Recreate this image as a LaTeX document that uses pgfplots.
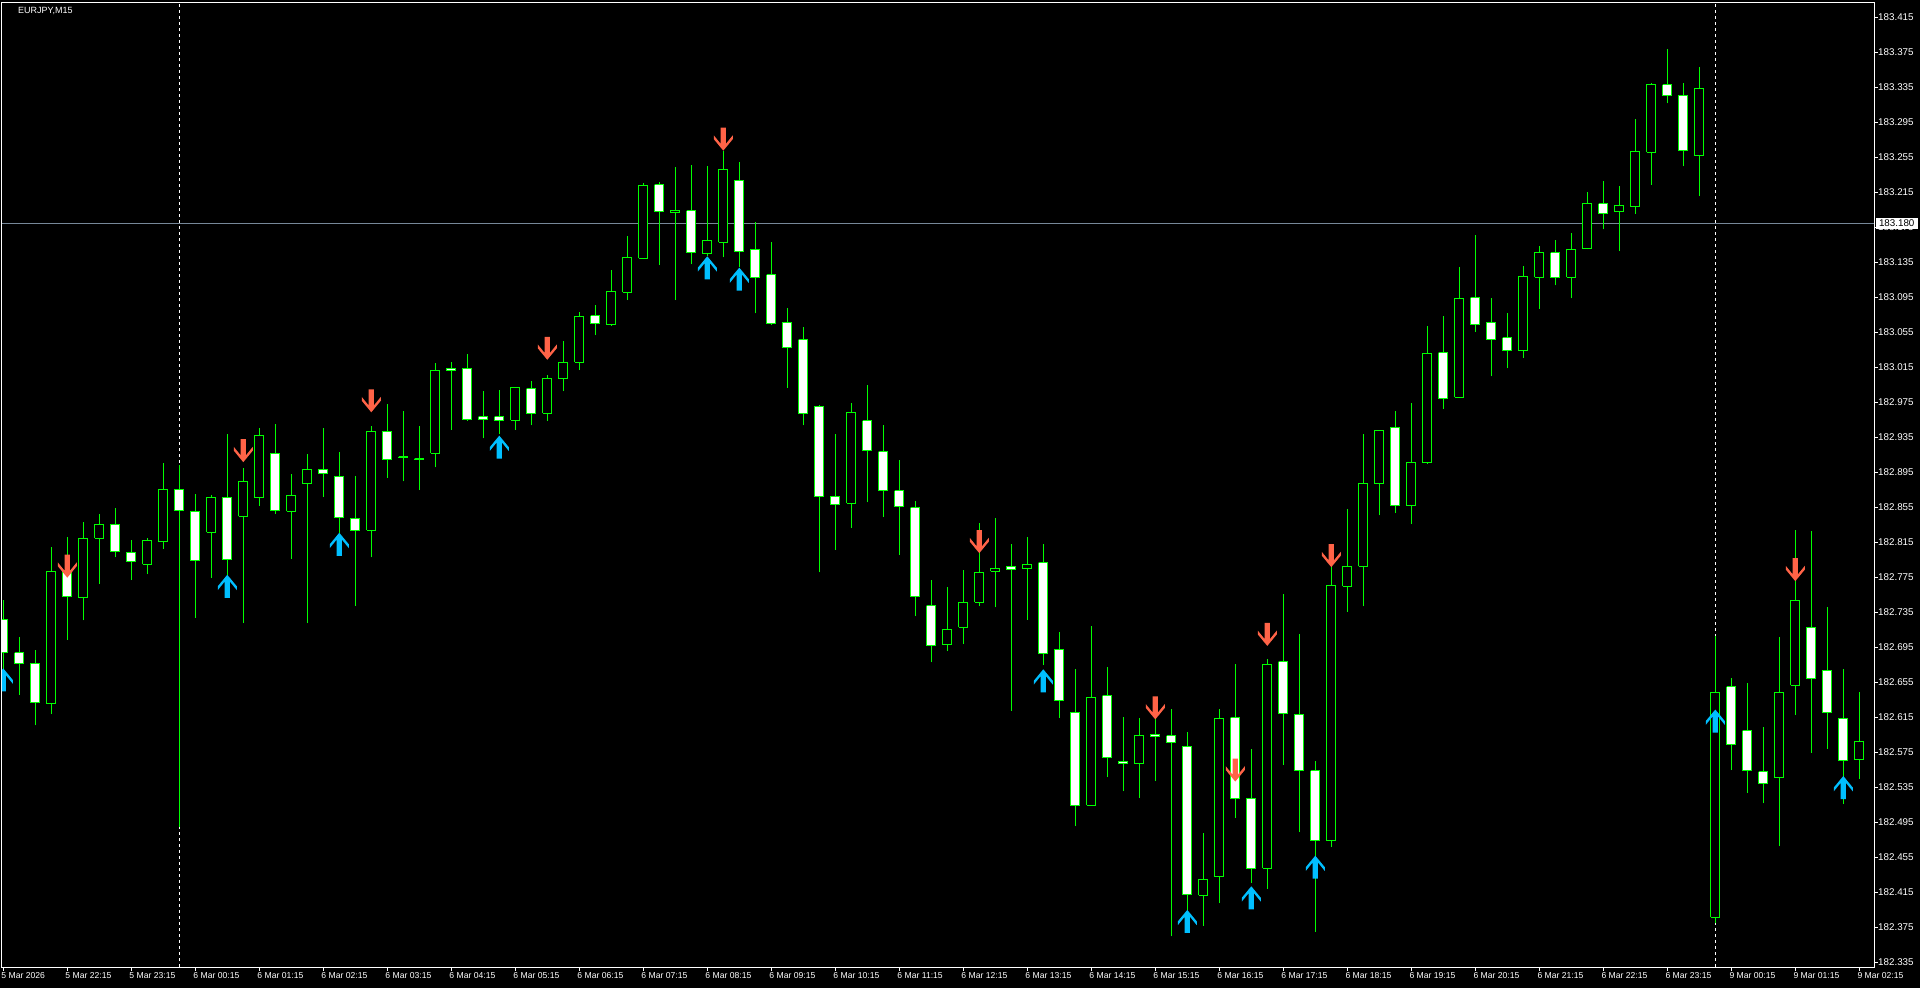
\documentclass[border=0pt]{standalone}
\usepackage{fontspec}
\setmainfont{Liberation Sans}
\usepackage{pgfplots}
\usepackage{pgfplotstable}
\pgfplotsset{compat=1.18}
\definecolor{mtgreen}{RGB}{0,255,0}
\definecolor{arrowred}{RGB}{255,99,71}
\definecolor{arrowblue}{RGB}{0,191,255}
\definecolor{bidline}{RGB}{119,136,153}

\pgfdeclareplotmark{mtup}{%
  \pgfpathmoveto{\pgfqpoint{0pt}{11.5pt}}%
  \pgfpathlineto{\pgfqpoint{9.5pt}{0pt}}%
  \pgfpathlineto{\pgfqpoint{9.5pt}{-3.8pt}}%
  \pgfpathlineto{\pgfqpoint{2.6pt}{4.7pt}}%
  \pgfpathlineto{\pgfqpoint{2.6pt}{-11.5pt}}%
  \pgfpathlineto{\pgfqpoint{-2.6pt}{-11.5pt}}%
  \pgfpathlineto{\pgfqpoint{-2.6pt}{4.7pt}}%
  \pgfpathlineto{\pgfqpoint{-9.5pt}{-3.8pt}}%
  \pgfpathlineto{\pgfqpoint{-9.5pt}{0pt}}%
  \pgfpathclose\pgfusepathqfill}
\pgfdeclareplotmark{mtdown}{%
  \pgfpathmoveto{\pgfqpoint{0pt}{-11.5pt}}%
  \pgfpathlineto{\pgfqpoint{9.5pt}{0pt}}%
  \pgfpathlineto{\pgfqpoint{9.5pt}{3.8pt}}%
  \pgfpathlineto{\pgfqpoint{2.6pt}{-4.7pt}}%
  \pgfpathlineto{\pgfqpoint{2.6pt}{11.5pt}}%
  \pgfpathlineto{\pgfqpoint{-2.6pt}{11.5pt}}%
  \pgfpathlineto{\pgfqpoint{-2.6pt}{-4.7pt}}%
  \pgfpathlineto{\pgfqpoint{-9.5pt}{3.8pt}}%
  \pgfpathlineto{\pgfqpoint{-9.5pt}{0pt}}%
  \pgfpathclose\pgfusepathqfill}

\pgfplotstableread{
i o h l c
0 182.727 182.749 182.671 182.689
1 182.689 182.707 182.641 182.677
2 182.677 182.692 182.606 182.632
3 182.631 182.810 182.619 182.782
4 182.783 182.821 182.704 182.753
5 182.752 182.838 182.726 182.820
6 182.820 182.848 182.768 182.836
7 182.836 182.854 182.798 182.805
8 182.804 182.818 182.772 182.793
9 182.790 182.820 182.779 182.817
10 182.816 182.906 182.808 182.876
11 182.876 182.904 182.490 182.852
12 182.851 182.870 182.729 182.795
13 182.827 182.869 182.775 182.867
14 182.867 182.939 182.778 182.796
15 182.845 182.900 182.723 182.885
16 182.866 182.946 182.857 182.937
17 182.917 182.951 182.848 182.852
18 182.851 182.893 182.796 182.869
19 182.882 182.916 182.723 182.899
20 182.899 182.946 182.867 182.894
21 182.891 182.919 182.826 182.844
22 182.843 182.891 182.743 182.829
23 182.829 182.948 182.798 182.942
24 182.942 182.973 182.889 182.910
25 182.913 182.965 182.885 182.912
26 182.911 182.948 182.875 182.910
27 182.917 183.020 182.901 183.012
28 183.014 183.021 182.944 183.012
29 183.014 183.030 182.954 182.956
30 182.959 182.988 182.934 182.956
31 182.959 182.989 182.939 182.954
32 182.955 182.993 182.944 182.992
33 182.991 183.000 182.949 182.963
34 182.963 183.006 182.954 183.002
35 183.002 183.045 182.988 183.021
36 183.021 183.079 183.012 183.073
37 183.074 183.087 183.052 183.065
38 183.064 183.127 183.063 183.102
39 183.101 183.165 183.092 183.141
40 183.140 183.226 183.139 183.223
41 183.224 183.227 183.132 183.193
42 183.192 183.244 183.092 183.194
43 183.194 183.246 183.133 183.146
44 183.145 183.245 183.143 183.160
45 183.158 183.263 183.141 183.241
46 183.229 183.250 183.130 183.148
47 183.150 183.181 183.077 183.118
48 183.121 183.159 183.064 183.065
49 183.067 183.083 182.992 183.038
50 183.047 183.061 182.949 182.962
51 182.971 182.972 182.781 182.868
52 182.868 182.939 182.807 182.859
53 182.860 182.975 182.832 182.964
54 182.954 182.995 182.861 182.920
55 182.919 182.949 182.844 182.875
56 182.874 182.909 182.801 182.856
57 182.855 182.862 182.731 182.753
58 182.743 182.772 182.678 182.697
59 182.698 182.764 182.691 182.716
60 182.718 182.784 182.699 182.747
61 182.747 182.837 182.742 182.781
62 182.782 182.843 182.741 182.785
63 182.788 182.813 182.623 182.784
64 182.785 182.821 182.727 182.790
65 182.792 182.813 182.675 182.688
66 182.693 182.713 182.615 182.635
67 182.621 182.670 182.491 182.515
68 182.515 182.720 182.514 182.638
69 182.640 182.673 182.547 182.569
70 182.565 182.616 182.531 182.563
71 182.562 182.614 182.523 182.595
72 182.596 182.614 182.543 182.593
73 182.594 182.625 182.365 182.587
74 182.582 182.599 182.395 182.413
75 182.412 182.483 182.377 182.430
76 182.433 182.625 182.403 182.614
77 182.615 182.676 182.500 182.522
78 182.523 182.579 182.426 182.442
79 182.443 182.682 182.419 182.676
80 182.679 182.756 182.561 182.620
81 182.619 182.710 182.484 182.555
82 182.554 182.565 182.370 182.475
83 182.474 182.788 182.467 182.766
84 182.765 182.853 182.736 182.788
85 182.788 182.939 182.742 182.883
86 182.882 182.944 182.846 182.943
87 182.947 182.965 182.849 182.857
88 182.857 182.975 182.836 182.906
89 182.906 183.063 182.905 183.031
90 183.032 183.074 182.968 182.980
91 182.981 183.130 182.980 183.094
92 183.095 183.167 183.056 183.064
93 183.067 183.094 183.005 183.047
94 183.049 183.077 183.014 183.034
95 183.034 183.131 183.026 183.119
96 183.118 183.154 183.082 183.146
97 183.146 183.161 183.109 183.118
98 183.118 183.169 183.094 183.150
99 183.151 183.216 183.150 183.202
100 183.202 183.228 183.173 183.191
101 183.193 183.223 183.148 183.200
102 183.199 183.299 183.191 183.262
103 183.261 183.340 183.224 183.338
104 183.338 183.379 183.317 183.326
105 183.326 183.340 183.245 183.263
106 183.257 183.358 183.211 183.334
107 182.387 182.708 182.380 182.644
108 182.650 182.660 182.555 182.584
109 182.600 182.655 182.529 182.554
110 182.553 182.604 182.517 182.540
111 182.546 182.707 182.468 182.644
112 182.652 182.829 182.618 182.749
113 182.718 182.828 182.575 182.660
114 182.669 182.741 182.579 182.621
115 182.614 182.670 182.516 182.566
116 182.567 182.644 182.545 182.588
}\candles

\pgfplotstableread{
i y
4 182.788
15 182.920
23 182.977
34 183.037
45 183.276
61 182.816
72 182.626
77 182.555
79 182.710
83 182.800
112 182.784
}\redarrows

\pgfplotstableread{
i y
0 182.658
14 182.765
21 182.813
31 182.924
44 183.129
46 183.116
65 182.657
74 182.382
78 182.409
82 182.444
107 182.611
115 182.535
}\bluearrows

\begin{document}
\begin{tikzpicture}
\fill[black] (0,0) rectangle (1920pt,988pt);
\begin{axis}[
  at={(2pt,21pt)}, anchor=south west,
  scale only axis, width=1872pt, height=964pt,
  xmin=-0.08, xmax=116.92,
  ymin=182.3299, ymax=183.4316,
  axis background/.style={fill=black},
  axis line style={white, line width=1pt},
  tick align=outside,
  major tick length=4pt,
  tick style={white, line width=1pt},
  xtick pos=bottom, ytick pos=right, yticklabel pos=right,
  clip marker paths=true,
  xtick={0,4,...,116},
  xticklabels={5 Mar 2026,5 Mar 22:15,5 Mar 23:15,6 Mar 00:15,6 Mar 01:15,6 Mar 02:15,6 Mar 03:15,6 Mar 04:15,6 Mar 05:15,6 Mar 06:15,6 Mar 07:15,6 Mar 08:15,6 Mar 09:15,6 Mar 10:15,6 Mar 11:15,6 Mar 12:15,6 Mar 13:15,6 Mar 14:15,6 Mar 15:15,6 Mar 16:15,6 Mar 17:15,6 Mar 18:15,6 Mar 19:15,6 Mar 20:15,6 Mar 21:15,6 Mar 22:15,6 Mar 23:15,9 Mar 00:15,9 Mar 01:15,9 Mar 02:15},
  ytick={182.335,182.375,182.415,182.455,182.495,182.535,182.575,182.615,182.655,182.695,182.735,182.775,182.815,182.855,182.895,182.935,182.975,183.015,183.055,183.095,183.135,183.175,183.215,183.255,183.295,183.335,183.375,183.415},
  yticklabels={182.335,182.375,182.415,182.455,182.495,182.535,182.575,182.615,182.655,182.695,182.735,182.775,182.815,182.855,182.895,182.935,182.975,183.015,183.055,183.095,183.135,183.175,183.215,183.255,183.295,183.335,183.375,183.415},
  xticklabel style={anchor=north west, inner sep=0pt, xshift=-2pt, yshift=-1pt, text=white, font=\fontsize{8.6}{10}\selectfont},
  yticklabel style={anchor=west, inner sep=0pt, text=white, font=\fontsize{9.8}{10}\selectfont},
]
\addplot[bidline, line width=1pt, mark=none] coordinates {(-0.08,183.18) (116.92,183.18)};
\addplot[white, line width=1pt, dash pattern=on 3pt off 3pt, mark=none] coordinates {(11,182.3299) (11,183.4316)};
\addplot[white, line width=1pt, dash pattern=on 3pt off 3pt, mark=none] coordinates {(107,182.3299) (107,183.4316)};
\pgfplotsforeachungrouped \k in {0,...,116}{%
  \pgfplotstablegetelem{\k}{o}\of\candles \edef\O{\pgfplotsretval}%
  \pgfplotstablegetelem{\k}{h}\of\candles \edef\H{\pgfplotsretval}%
  \pgfplotstablegetelem{\k}{l}\of\candles \edef\L{\pgfplotsretval}%
  \pgfplotstablegetelem{\k}{c}\of\candles \edef\C{\pgfplotsretval}%
  \pgfmathsetmacro\xa{\k-0.29}\pgfmathsetmacro\xb{\k+0.29}%
  \ifdim\C pt>\O pt \def\bodyfill{black}\else\def\bodyfill{white}\fi
  \edef\doit{\noexpand\addplot[draw=mtgreen, line width=1pt, mark=none] coordinates {(\k,\L) (\k,\H)};%
    \noexpand\addplot[draw=mtgreen, fill=\bodyfill, line width=1pt, mark=none] coordinates {(\xa,\O) (\xb,\O) (\xb,\C) (\xa,\C) (\xa,\O)};}%
  \doit
}
\addplot[only marks, mark=mtdown, color=arrowred] table[x=i, y=y] {\redarrows};
\addplot[only marks, mark=mtup, color=arrowblue] table[x=i, y=y] {\bluearrows};
\coordinate (bid) at (axis cs:116.92,183.18);
\end{axis}
\node[anchor=west, fill=white, text=black, inner sep=0pt, minimum height=11pt, minimum width=42pt, font=\fontsize{9.8}{10}\selectfont, xshift=1.5pt] at (bid) {183.180};
\node[anchor=west, text=white, inner sep=0pt, font=\fontsize{9}{10}\selectfont] at (18pt,977.5pt) {EURJPY,M15};
\pgfresetboundingbox
\useasboundingbox (0,0) rectangle (1920pt,988pt);
\end{tikzpicture}
\end{document}
